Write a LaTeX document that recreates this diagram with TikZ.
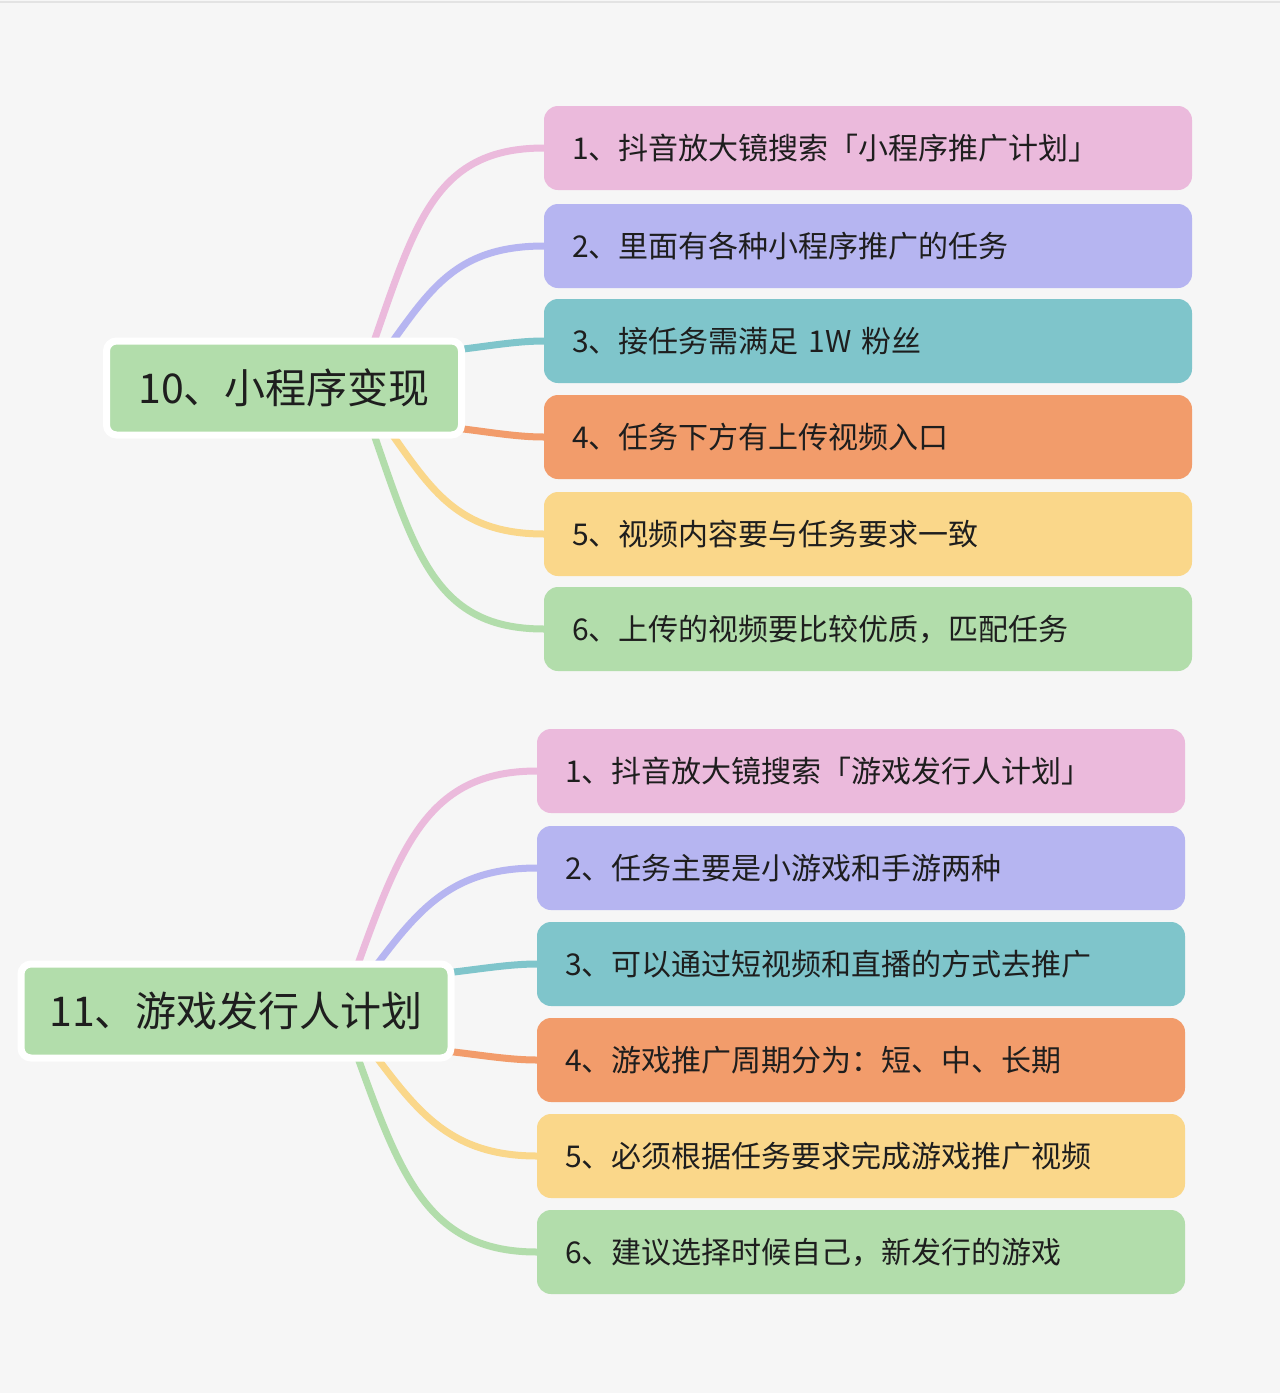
\documentclass[tikz,border=0pt]{standalone}
\usepackage{fontspec}
\newfontfamily\cjk{Noto Sans CJK SC}
\usepackage{tikz}
\usetikzlibrary{backgrounds}
\definecolor{pagebg}{HTML}{F6F6F6}
\definecolor{ink}{HTML}{1E1E1E}
\definecolor{cpink}{HTML}{EBBADC}
\definecolor{cblue}{HTML}{B6B5F1}
\definecolor{cteal}{HTML}{7FC5CB}
\definecolor{corng}{HTML}{F29C6B}
\definecolor{cyell}{HTML}{FAD78A}
\definecolor{cgrn}{HTML}{B2DDAB}
\tikzset{
  leaf/.style={fill=#1,rounded corners=7pt,minimum height=42pt,text width=296pt,inner xsep=14pt,inner ysep=0pt,align=left,outer sep=0pt,font=\cjk\fontsize{15pt}{18pt}\selectfont,text=ink},
  root/.style={fill=cgrn,draw=white,line width=3.5pt,rounded corners=5pt,minimum height=47pt,inner sep=0pt,outer sep=0pt,font=\cjk\fontsize{20.5pt}{24pt}\selectfont,text=ink},
  lnk/.style={draw=#1,line width=3.5pt},
}
\begin{document}
\begin{tikzpicture}[x=0.5pt,y=-0.5pt]
\useasboundingbox (0,0) rectangle (1280,1393);
% 10 mini program
\node[root,minimum width=177.5pt] (r10) at (284,388) {10、小程序变现};
\node[leaf=cpink] (a1) at (868,148) {1、抖音放大镜搜索「小程序推广计划」};
\node[leaf=cblue] (a2) at (868,246) {2、里面有各种小程序推广的任务};
\node[leaf=cteal] (a3) at (868,341) {3、接任务需满足 1W 粉丝};
\node[leaf=corng] (a4) at (868,437) {4、任务下方有上传视频入口};
\node[leaf=cyell] (a5) at (868,534) {5、视频内容要与任务要求一致};
\node[leaf=cgrn] (a6) at (868,629) {6、上传的视频要比较优质，匹配任务};
% 11 game publisher
\node[root,minimum width=215pt] (r11) at (236,1011) {11、游戏发行人计划};
\node[leaf=cpink] (b1) at (861,771) {1、抖音放大镜搜索「游戏发行人计划」};
\node[leaf=cblue] (b2) at (861,868) {2、任务主要是小游戏和手游两种};
\node[leaf=cteal] (b3) at (861,964) {3、可以通过短视频和直播的方式去推广};
\node[leaf=corng] (b4) at (861,1060) {4、游戏推广周期分为：短、中、长期};
\node[leaf=cyell] (b5) at (861,1156) {5、必须根据任务要求完成游戏推广视频};
\node[leaf=cgrn] (b6) at (861,1252) {6、建议选择时候自己，新发行的游戏};
\begin{scope}[on background layer]
\fill[pagebg] (0,0) rectangle (1280,1393);
\draw[gray!22,line width=1pt] (0,2)--(1280,2);
\draw[lnk=cpink] ([shift={(-104,0)}]r10.east) .. controls +(55,-150) and +(-120,0) .. (a1.west);
\draw[lnk=cblue] ([shift={(-104,0)}]r10.east) .. controls +(65,-80) and +(-105,0) .. (a2.west);
\draw[lnk=cteal] ([shift={(-40,-36)}]r10.east) .. controls +(40,0) and +(-40,0) .. (a3.west);
\draw[lnk=corng] ([shift={(-40,38)}]r10.east) .. controls +(40,0) and +(-40,0) .. (a4.west);
\draw[lnk=cyell] ([shift={(-104,0)}]r10.east) .. controls +(65,80) and +(-105,0) .. (a5.west);
\draw[lnk=cgrn] ([shift={(-104,0)}]r10.east) .. controls +(55,150) and +(-120,0) .. (a6.west);
\draw[lnk=cpink] ([shift={(-110,0)}]r11.east) .. controls +(55,-150) and +(-120,0) .. (b1.west);
\draw[lnk=cblue] ([shift={(-110,0)}]r11.east) .. controls +(65,-80) and +(-105,0) .. (b2.west);
\draw[lnk=cteal] ([shift={(-40,-36)}]r11.east) .. controls +(40,0) and +(-40,0) .. (b3.west);
\draw[lnk=corng] ([shift={(-40,38)}]r11.east) .. controls +(40,0) and +(-40,0) .. (b4.west);
\draw[lnk=cyell] ([shift={(-110,0)}]r11.east) .. controls +(65,80) and +(-105,0) .. (b5.west);
\draw[lnk=cgrn] ([shift={(-110,0)}]r11.east) .. controls +(55,150) and +(-120,0) .. (b6.west);
\end{scope}
\end{tikzpicture}
\end{document}
